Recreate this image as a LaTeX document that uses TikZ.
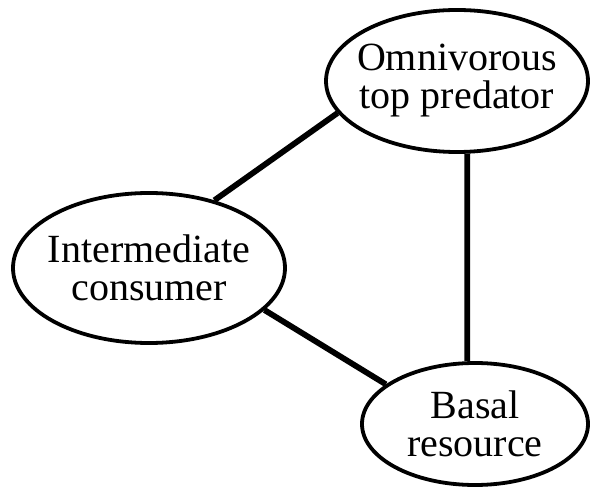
\documentclass[tikz,border=0pt]{standalone}
\usepackage{fontspec}
\setmainfont{Liberation Serif}
\usetikzlibrary{shapes.geometric}
\tikzset{species/.style={draw,ellipse,line width=3.8pt,inner sep=-16pt,align=center,font=\fontsize{40}{38}\selectfont}}
\newcommand{\species}[6]{\node[species,minimum width=#4pt,minimum height=#5pt] (#1) at (#2,#3) {#6};}
\newcommand{\link}[2]{\draw[line width=5.8pt] (#1) -- (#2);}

\begin{document}
\begin{tikzpicture}[x=1pt,y=-1pt]
    \useasboundingbox (0,0) rectangle (590,489);
    \species{OTP}{457}{81}{262}{142}{Omnivorous\\top predator}
    \species{IC}{149}{268}{272}{150}{Intermediate\\consumer}
    \species{BR}{475}{424}{226}{122}{Basal\\resource}
    \link{IC.46.7}{OTP.195}
    \link{OTP.278}{BR.97.5}
    \link{IC.340.6}{BR.156.7}
\end{tikzpicture}
\end{document}
